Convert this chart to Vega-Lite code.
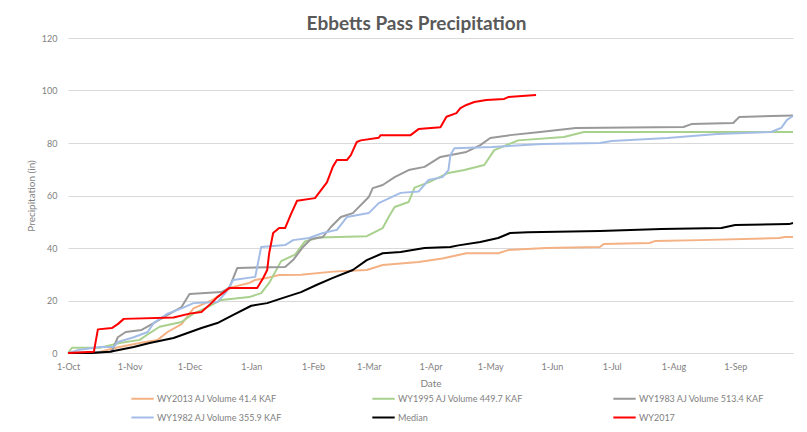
{
  "$schema": "https://vega.github.io/schema/vega-lite/v6.json",
  "width": 725,
  "height": 315,
  "autosize": {"type": "none"},
  "padding": {"left": 68, "top": 38, "right": 14, "bottom": 79},
  "background": "white",
  "title": {
    "text": "Ebbetts Pass Precipitation",
    "font": "Lato",
    "fontSize": 19,
    "fontWeight": "bold",
    "color": "#595959",
    "anchor": "middle",
    "dx": -14,
    "offset": 0
  },
  "data": {
    "values": [
      {"s":"WY2013 AJ Volume 41.4 KAF","d":"2016-10-01","v":0},
      {"s":"WY2013 AJ Volume 41.4 KAF","d":"2016-10-15","v":0},
      {"s":"WY2013 AJ Volume 41.4 KAF","d":"2016-10-25","v":2},
      {"s":"WY2013 AJ Volume 41.4 KAF","d":"2016-11-06","v":3.8},
      {"s":"WY2013 AJ Volume 41.4 KAF","d":"2016-11-15","v":5},
      {"s":"WY2013 AJ Volume 41.4 KAF","d":"2016-11-20","v":8},
      {"s":"WY2013 AJ Volume 41.4 KAF","d":"2016-11-27","v":11},
      {"s":"WY2013 AJ Volume 41.4 KAF","d":"2016-12-03","v":17},
      {"s":"WY2013 AJ Volume 41.4 KAF","d":"2016-12-12","v":20},
      {"s":"WY2013 AJ Volume 41.4 KAF","d":"2016-12-22","v":25},
      {"s":"WY2013 AJ Volume 41.4 KAF","d":"2016-12-31","v":26.7},
      {"s":"WY2013 AJ Volume 41.4 KAF","d":"2017-01-03","v":27.8},
      {"s":"WY2013 AJ Volume 41.4 KAF","d":"2017-01-10","v":28.8},
      {"s":"WY2013 AJ Volume 41.4 KAF","d":"2017-01-15","v":29.7},
      {"s":"WY2013 AJ Volume 41.4 KAF","d":"2017-01-26","v":29.8},
      {"s":"WY2013 AJ Volume 41.4 KAF","d":"2017-02-11","v":31},
      {"s":"WY2013 AJ Volume 41.4 KAF","d":"2017-02-28","v":31.6},
      {"s":"WY2013 AJ Volume 41.4 KAF","d":"2017-03-08","v":33.5},
      {"s":"WY2013 AJ Volume 41.4 KAF","d":"2017-03-26","v":34.7},
      {"s":"WY2013 AJ Volume 41.4 KAF","d":"2017-04-07","v":36},
      {"s":"WY2013 AJ Volume 41.4 KAF","d":"2017-04-15","v":37.3},
      {"s":"WY2013 AJ Volume 41.4 KAF","d":"2017-04-19","v":38},
      {"s":"WY2013 AJ Volume 41.4 KAF","d":"2017-05-05","v":38},
      {"s":"WY2013 AJ Volume 41.4 KAF","d":"2017-05-10","v":39.2},
      {"s":"WY2013 AJ Volume 41.4 KAF","d":"2017-05-29","v":40},
      {"s":"WY2013 AJ Volume 41.4 KAF","d":"2017-06-25","v":40.4},
      {"s":"WY2013 AJ Volume 41.4 KAF","d":"2017-06-27","v":41.5},
      {"s":"WY2013 AJ Volume 41.4 KAF","d":"2017-07-20","v":41.9},
      {"s":"WY2013 AJ Volume 41.4 KAF","d":"2017-07-23","v":42.7},
      {"s":"WY2013 AJ Volume 41.4 KAF","d":"2017-08-14","v":43},
      {"s":"WY2013 AJ Volume 41.4 KAF","d":"2017-09-23","v":43.8},
      {"s":"WY2013 AJ Volume 41.4 KAF","d":"2017-09-26","v":44.2},
      {"s":"WY2013 AJ Volume 41.4 KAF","d":"2017-09-30","v":44.2},

      {"s":"WY1995 AJ Volume 449.7 KAF","d":"2016-10-01","v":0},
      {"s":"WY1995 AJ Volume 449.7 KAF","d":"2016-10-03","v":2},
      {"s":"WY1995 AJ Volume 449.7 KAF","d":"2016-10-17","v":2},
      {"s":"WY1995 AJ Volume 449.7 KAF","d":"2016-10-27","v":3.8},
      {"s":"WY1995 AJ Volume 449.7 KAF","d":"2016-11-06","v":5},
      {"s":"WY1995 AJ Volume 449.7 KAF","d":"2016-11-11","v":7.6},
      {"s":"WY1995 AJ Volume 449.7 KAF","d":"2016-11-16","v":10},
      {"s":"WY1995 AJ Volume 449.7 KAF","d":"2016-11-27","v":11.8},
      {"s":"WY1995 AJ Volume 449.7 KAF","d":"2016-12-03","v":15},
      {"s":"WY1995 AJ Volume 449.7 KAF","d":"2016-12-10","v":17.5},
      {"s":"WY1995 AJ Volume 449.7 KAF","d":"2016-12-17","v":20.2},
      {"s":"WY1995 AJ Volume 449.7 KAF","d":"2016-12-31","v":21.3},
      {"s":"WY1995 AJ Volume 449.7 KAF","d":"2017-01-06","v":22.8},
      {"s":"WY1995 AJ Volume 449.7 KAF","d":"2017-01-10","v":26.7},
      {"s":"WY1995 AJ Volume 449.7 KAF","d":"2017-01-16","v":35},
      {"s":"WY1995 AJ Volume 449.7 KAF","d":"2017-01-23","v":37.5},
      {"s":"WY1995 AJ Volume 449.7 KAF","d":"2017-01-28","v":42.5},
      {"s":"WY1995 AJ Volume 449.7 KAF","d":"2017-02-04","v":44},
      {"s":"WY1995 AJ Volume 449.7 KAF","d":"2017-02-28","v":44.5},
      {"s":"WY1995 AJ Volume 449.7 KAF","d":"2017-03-08","v":47.6},
      {"s":"WY1995 AJ Volume 449.7 KAF","d":"2017-03-11","v":51.8},
      {"s":"WY1995 AJ Volume 449.7 KAF","d":"2017-03-14","v":55.6},
      {"s":"WY1995 AJ Volume 449.7 KAF","d":"2017-03-21","v":57.5},
      {"s":"WY1995 AJ Volume 449.7 KAF","d":"2017-03-24","v":63},
      {"s":"WY1995 AJ Volume 449.7 KAF","d":"2017-03-31","v":65},
      {"s":"WY1995 AJ Volume 449.7 KAF","d":"2017-04-10","v":68.6},
      {"s":"WY1995 AJ Volume 449.7 KAF","d":"2017-04-18","v":69.7},
      {"s":"WY1995 AJ Volume 449.7 KAF","d":"2017-04-28","v":71.6},
      {"s":"WY1995 AJ Volume 449.7 KAF","d":"2017-05-03","v":77.3},
      {"s":"WY1995 AJ Volume 449.7 KAF","d":"2017-05-15","v":81},
      {"s":"WY1995 AJ Volume 449.7 KAF","d":"2017-06-07","v":82.3},
      {"s":"WY1995 AJ Volume 449.7 KAF","d":"2017-06-17","v":84.2},
      {"s":"WY1995 AJ Volume 449.7 KAF","d":"2017-09-30","v":84.2},

      {"s":"WY1983 AJ Volume 513.4 KAF","d":"2016-10-01","v":0},
      {"s":"WY1983 AJ Volume 513.4 KAF","d":"2016-10-23","v":0.5},
      {"s":"WY1983 AJ Volume 513.4 KAF","d":"2016-10-24","v":2.3},
      {"s":"WY1983 AJ Volume 513.4 KAF","d":"2016-10-26","v":6},
      {"s":"WY1983 AJ Volume 513.4 KAF","d":"2016-10-30","v":8},
      {"s":"WY1983 AJ Volume 513.4 KAF","d":"2016-11-07","v":8.8},
      {"s":"WY1983 AJ Volume 513.4 KAF","d":"2016-11-13","v":11.4},
      {"s":"WY1983 AJ Volume 513.4 KAF","d":"2016-11-20","v":14.5},
      {"s":"WY1983 AJ Volume 513.4 KAF","d":"2016-11-27","v":17.5},
      {"s":"WY1983 AJ Volume 513.4 KAF","d":"2016-12-01","v":22.5},
      {"s":"WY1983 AJ Volume 513.4 KAF","d":"2016-12-17","v":23.2},
      {"s":"WY1983 AJ Volume 513.4 KAF","d":"2016-12-21","v":24.8},
      {"s":"WY1983 AJ Volume 513.4 KAF","d":"2016-12-25","v":32.4},
      {"s":"WY1983 AJ Volume 513.4 KAF","d":"2017-01-18","v":32.8},
      {"s":"WY1983 AJ Volume 513.4 KAF","d":"2017-01-22","v":35.4},
      {"s":"WY1983 AJ Volume 513.4 KAF","d":"2017-01-27","v":40.4},
      {"s":"WY1983 AJ Volume 513.4 KAF","d":"2017-01-31","v":43.4},
      {"s":"WY1983 AJ Volume 513.4 KAF","d":"2017-02-06","v":44.2},
      {"s":"WY1983 AJ Volume 513.4 KAF","d":"2017-02-10","v":48},
      {"s":"WY1983 AJ Volume 513.4 KAF","d":"2017-02-15","v":51.8},
      {"s":"WY1983 AJ Volume 513.4 KAF","d":"2017-02-21","v":53.3},
      {"s":"WY1983 AJ Volume 513.4 KAF","d":"2017-03-01","v":59.4},
      {"s":"WY1983 AJ Volume 513.4 KAF","d":"2017-03-03","v":62.8},
      {"s":"WY1983 AJ Volume 513.4 KAF","d":"2017-03-08","v":64},
      {"s":"WY1983 AJ Volume 513.4 KAF","d":"2017-03-14","v":67},
      {"s":"WY1983 AJ Volume 513.4 KAF","d":"2017-03-21","v":69.7},
      {"s":"WY1983 AJ Volume 513.4 KAF","d":"2017-03-29","v":70.9},
      {"s":"WY1983 AJ Volume 513.4 KAF","d":"2017-04-06","v":74.7},
      {"s":"WY1983 AJ Volume 513.4 KAF","d":"2017-04-19","v":76.6},
      {"s":"WY1983 AJ Volume 513.4 KAF","d":"2017-04-26","v":79.2},
      {"s":"WY1983 AJ Volume 513.4 KAF","d":"2017-05-01","v":81.9},
      {"s":"WY1983 AJ Volume 513.4 KAF","d":"2017-05-11","v":83},
      {"s":"WY1983 AJ Volume 513.4 KAF","d":"2017-05-26","v":84.2},
      {"s":"WY1983 AJ Volume 513.4 KAF","d":"2017-06-13","v":85.7},
      {"s":"WY1983 AJ Volume 513.4 KAF","d":"2017-08-06","v":86.1},
      {"s":"WY1983 AJ Volume 513.4 KAF","d":"2017-08-10","v":87.2},
      {"s":"WY1983 AJ Volume 513.4 KAF","d":"2017-08-31","v":87.6},
      {"s":"WY1983 AJ Volume 513.4 KAF","d":"2017-09-03","v":89.9},
      {"s":"WY1983 AJ Volume 513.4 KAF","d":"2017-09-30","v":90.5},

      {"s":"WY1982 AJ Volume 355.9 KAF","d":"2016-10-01","v":0},
      {"s":"WY1982 AJ Volume 355.9 KAF","d":"2016-10-06","v":1.1},
      {"s":"WY1982 AJ Volume 355.9 KAF","d":"2016-10-17","v":2.3},
      {"s":"WY1982 AJ Volume 355.9 KAF","d":"2016-10-24","v":2.3},
      {"s":"WY1982 AJ Volume 355.9 KAF","d":"2016-10-26","v":4.2},
      {"s":"WY1982 AJ Volume 355.9 KAF","d":"2016-11-03","v":6},
      {"s":"WY1982 AJ Volume 355.9 KAF","d":"2016-11-10","v":8},
      {"s":"WY1982 AJ Volume 355.9 KAF","d":"2016-11-13","v":11.4},
      {"s":"WY1982 AJ Volume 355.9 KAF","d":"2016-11-20","v":15},
      {"s":"WY1982 AJ Volume 355.9 KAF","d":"2016-11-27","v":17},
      {"s":"WY1982 AJ Volume 355.9 KAF","d":"2016-12-03","v":19},
      {"s":"WY1982 AJ Volume 355.9 KAF","d":"2016-12-15","v":19.4},
      {"s":"WY1982 AJ Volume 355.9 KAF","d":"2016-12-19","v":22.8},
      {"s":"WY1982 AJ Volume 355.9 KAF","d":"2016-12-23","v":27.8},
      {"s":"WY1982 AJ Volume 355.9 KAF","d":"2017-01-03","v":29},
      {"s":"WY1982 AJ Volume 355.9 KAF","d":"2017-01-06","v":40.4},
      {"s":"WY1982 AJ Volume 355.9 KAF","d":"2017-01-18","v":41.1},
      {"s":"WY1982 AJ Volume 355.9 KAF","d":"2017-01-22","v":43},
      {"s":"WY1982 AJ Volume 355.9 KAF","d":"2017-01-30","v":43.8},
      {"s":"WY1982 AJ Volume 355.9 KAF","d":"2017-02-06","v":45.7},
      {"s":"WY1982 AJ Volume 355.9 KAF","d":"2017-02-13","v":46.9},
      {"s":"WY1982 AJ Volume 355.9 KAF","d":"2017-02-18","v":51.8},
      {"s":"WY1982 AJ Volume 355.9 KAF","d":"2017-03-01","v":53.3},
      {"s":"WY1982 AJ Volume 355.9 KAF","d":"2017-03-06","v":57.1},
      {"s":"WY1982 AJ Volume 355.9 KAF","d":"2017-03-17","v":61},
      {"s":"WY1982 AJ Volume 355.9 KAF","d":"2017-03-26","v":61.5},
      {"s":"WY1982 AJ Volume 355.9 KAF","d":"2017-03-31","v":65.9},
      {"s":"WY1982 AJ Volume 355.9 KAF","d":"2017-04-07","v":67},
      {"s":"WY1982 AJ Volume 355.9 KAF","d":"2017-04-10","v":69.7},
      {"s":"WY1982 AJ Volume 355.9 KAF","d":"2017-04-11","v":75.4},
      {"s":"WY1982 AJ Volume 355.9 KAF","d":"2017-04-13","v":78},
      {"s":"WY1982 AJ Volume 355.9 KAF","d":"2017-05-02","v":78.5},
      {"s":"WY1982 AJ Volume 355.9 KAF","d":"2017-05-27","v":79.6},
      {"s":"WY1982 AJ Volume 355.9 KAF","d":"2017-06-25","v":80},
      {"s":"WY1982 AJ Volume 355.9 KAF","d":"2017-07-01","v":80.8},
      {"s":"WY1982 AJ Volume 355.9 KAF","d":"2017-07-29","v":81.9},
      {"s":"WY1982 AJ Volume 355.9 KAF","d":"2017-08-23","v":83.4},
      {"s":"WY1982 AJ Volume 355.9 KAF","d":"2017-09-19","v":84.2},
      {"s":"WY1982 AJ Volume 355.9 KAF","d":"2017-09-24","v":85.7},
      {"s":"WY1982 AJ Volume 355.9 KAF","d":"2017-09-27","v":88.8},
      {"s":"WY1982 AJ Volume 355.9 KAF","d":"2017-09-30","v":90.3},

      {"s":"Median","d":"2016-10-01","v":0},
      {"s":"Median","d":"2016-10-13","v":0},
      {"s":"Median","d":"2016-10-22","v":0.5},
      {"s":"Median","d":"2016-11-03","v":2.3},
      {"s":"Median","d":"2016-11-11","v":3.8},
      {"s":"Median","d":"2016-11-23","v":5.7},
      {"s":"Median","d":"2016-11-30","v":7.6},
      {"s":"Median","d":"2016-12-07","v":9.5},
      {"s":"Median","d":"2016-12-15","v":11.4},
      {"s":"Median","d":"2016-12-23","v":14.5},
      {"s":"Median","d":"2017-01-01","v":18},
      {"s":"Median","d":"2017-01-09","v":19},
      {"s":"Median","d":"2017-01-17","v":21},
      {"s":"Median","d":"2017-01-26","v":23.2},
      {"s":"Median","d":"2017-02-03","v":26},
      {"s":"Median","d":"2017-02-11","v":28.6},
      {"s":"Median","d":"2017-02-21","v":31.6},
      {"s":"Median","d":"2017-02-28","v":35.4},
      {"s":"Median","d":"2017-03-08","v":38},
      {"s":"Median","d":"2017-03-17","v":38.5},
      {"s":"Median","d":"2017-03-29","v":40},
      {"s":"Median","d":"2017-04-11","v":40.4},
      {"s":"Median","d":"2017-04-15","v":41},
      {"s":"Median","d":"2017-04-26","v":42.3},
      {"s":"Median","d":"2017-05-05","v":43.8},
      {"s":"Median","d":"2017-05-11","v":45.7},
      {"s":"Median","d":"2017-05-20","v":46},
      {"s":"Median","d":"2017-06-25","v":46.5},
      {"s":"Median","d":"2017-07-26","v":47.2},
      {"s":"Median","d":"2017-08-25","v":47.6},
      {"s":"Median","d":"2017-09-01","v":48.8},
      {"s":"Median","d":"2017-09-28","v":49.1},
      {"s":"Median","d":"2017-09-30","v":49.5},

      {"s":"WY2017","d":"2016-10-01","v":0},
      {"s":"WY2017","d":"2016-10-14","v":0.5},
      {"s":"WY2017","d":"2016-10-16","v":9},
      {"s":"WY2017","d":"2016-10-23","v":9.5},
      {"s":"WY2017","d":"2016-10-26","v":11},
      {"s":"WY2017","d":"2016-10-29","v":13},
      {"s":"WY2017","d":"2016-11-23","v":13.5},
      {"s":"WY2017","d":"2016-12-01","v":15},
      {"s":"WY2017","d":"2016-12-07","v":15.6},
      {"s":"WY2017","d":"2016-12-12","v":19},
      {"s":"WY2017","d":"2016-12-15","v":21.3},
      {"s":"WY2017","d":"2016-12-18","v":23},
      {"s":"WY2017","d":"2016-12-21","v":24.8},
      {"s":"WY2017","d":"2017-01-04","v":24.8},
      {"s":"WY2017","d":"2017-01-07","v":28.6},
      {"s":"WY2017","d":"2017-01-09","v":31.6},
      {"s":"WY2017","d":"2017-01-10","v":38},
      {"s":"WY2017","d":"2017-01-12","v":45.7},
      {"s":"WY2017","d":"2017-01-15","v":47.6},
      {"s":"WY2017","d":"2017-01-18","v":47.6},
      {"s":"WY2017","d":"2017-01-21","v":53},
      {"s":"WY2017","d":"2017-01-24","v":58},
      {"s":"WY2017","d":"2017-02-02","v":59},
      {"s":"WY2017","d":"2017-02-04","v":61},
      {"s":"WY2017","d":"2017-02-08","v":65},
      {"s":"WY2017","d":"2017-02-11","v":71},
      {"s":"WY2017","d":"2017-02-13","v":73.5},
      {"s":"WY2017","d":"2017-02-18","v":73.5},
      {"s":"WY2017","d":"2017-02-20","v":75.4},
      {"s":"WY2017","d":"2017-02-23","v":80.4},
      {"s":"WY2017","d":"2017-02-25","v":81},
      {"s":"WY2017","d":"2017-03-06","v":82},
      {"s":"WY2017","d":"2017-03-07","v":83},
      {"s":"WY2017","d":"2017-03-22","v":83},
      {"s":"WY2017","d":"2017-03-26","v":85.3},
      {"s":"WY2017","d":"2017-04-06","v":86},
      {"s":"WY2017","d":"2017-04-09","v":90},
      {"s":"WY2017","d":"2017-04-14","v":91.4},
      {"s":"WY2017","d":"2017-04-16","v":93.3},
      {"s":"WY2017","d":"2017-04-19","v":94.5},
      {"s":"WY2017","d":"2017-04-23","v":95.6},
      {"s":"WY2017","d":"2017-04-29","v":96.4},
      {"s":"WY2017","d":"2017-05-08","v":96.8},
      {"s":"WY2017","d":"2017-05-10","v":97.5},
      {"s":"WY2017","d":"2017-05-17","v":97.9},
      {"s":"WY2017","d":"2017-05-24","v":98.3}
    ]
  },
  "mark": {"type": "line", "strokeJoin": "round"},
  "encoding": {
    "x": {
      "field": "d",
      "type": "temporal",
      "title": "Date",
      "scale": {
        "type": "utc",
        "domain": [
          {"year": 2016, "month": 10, "date": 1, "utc": true},
          {"year": 2017, "month": 9, "date": 30, "utc": true}
        ],
        "nice": false
      },
      "axis": {
        "format": "%-d-%b",
        "tickCount": {"interval": "month", "step": 1},
        "grid": false,
        "ticks": false,
        "tickSize": 0,
        "domainColor": "#d9d9d9",
        "domainWidth": 1,
        "labelPadding": 9,
        "labelOverlap": false,
        "labelFlush": false,
        "titlePadding": 7
      }
    },
    "y": {
      "field": "v",
      "type": "quantitative",
      "title": "Precipitation (in)",
      "scale": {"domain": [0, 120], "nice": false},
      "axis": {
        "values": [0, 20, 40, 60, 80, 100, 120],
        "domain": false,
        "ticks": false,
        "tickSize": 0,
        "labelPadding": 11,
        "gridColor": "#d9d9d9",
        "gridWidth": 1,
        "titlePadding": 5
      }
    },
    "color": {
      "field": "s",
      "type": "nominal",
      "scale": {
        "domain": ["WY2013 AJ Volume 41.4 KAF", "WY1995 AJ Volume 449.7 KAF", "WY1983 AJ Volume 513.4 KAF", "WY1982 AJ Volume 355.9 KAF", "Median", "WY2017"],
        "range": ["#f4b183", "#a9d18e", "#999999", "#a4bde6", "#000000", "#ff0000"]
      },
      "legend": {
        "title": null,
        "orient": "none",
        "legendX": 62,
        "legendY": 348,
        "direction": "horizontal",
        "columns": 3,
        "gridAlign": "all",
        "columnPadding": 86,
        "rowPadding": 1,
        "padding": 0,
        "symbolType": "stroke",
        "symbolSize": 500,
        "symbolStrokeWidth": 3,
        "labelOffset": 2,
        "labelFont": "Lato",
        "labelFontSize": 9,
        "labelColor": "#7f7f7f",
        "labelLimit": 300
      }
    },
    "strokeWidth": {
      "field": "s",
      "type": "nominal",
      "scale": {
        "domain": ["WY2013 AJ Volume 41.4 KAF", "WY1995 AJ Volume 449.7 KAF", "WY1983 AJ Volume 513.4 KAF", "WY1982 AJ Volume 355.9 KAF", "Median", "WY2017"],
        "range": [2, 2, 2.5, 2, 3, 3]
      },
      "legend": null
    }
  },
  "config": {
    "view": {"stroke": null},
    "font": "Lato",
    "axis": {
      "labelFont": "Lato",
      "titleFont": "Lato",
      "labelColor": "#7f7f7f",
      "titleColor": "#7f7f7f",
      "labelFontSize": 9,
      "titleFontSize": 10,
      "titleFontWeight": "normal"
    }
  }
}
